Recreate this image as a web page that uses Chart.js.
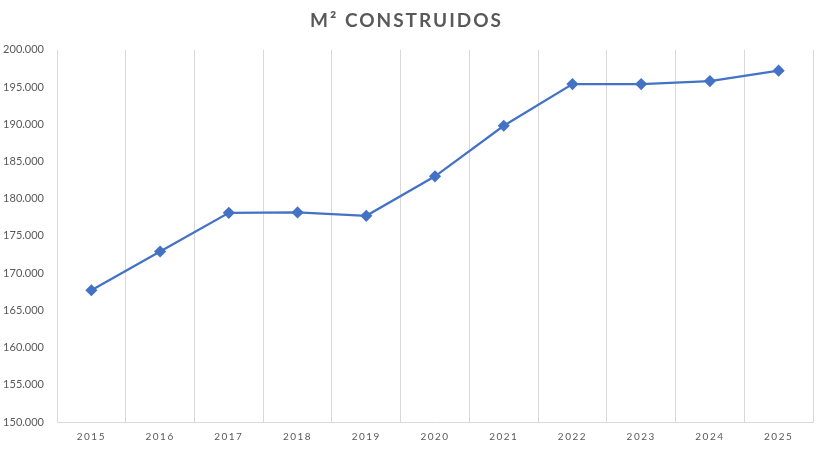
<!DOCTYPE html>
<html>
<head>
<meta charset="utf-8">
<script src="https://cdn.jsdelivr.net/npm/chart.js@4"></script>
<style>
  body { margin: 0; background: #fff; }
  .wrap { width: 826px; height: 450px; }
</style>
</head>
<body>
<div class="wrap"><canvas id="m2Chart"></canvas></div>
<script>
const years = ["2015", "2016", "2017", "2018", "2019", "2020", "2021", "2022", "2023", "2024", "2025"];
const m2Built = [167700, 172900, 178100, 178150, 177700, 183000, 189800, 195400, 195400, 195800, 197200];
const yMin = 150000;
const yMax = 200000;
const yStep = 5000;

const gray = "#595959";
const gridGray = "#d9d9d9";

// canvas letterSpacing for title and x labels only
function spaced(obj, key, spacing) {
  if (!obj || obj["_spaced_" + key]) return;
  const orig = obj[key];
  obj[key] = function () {
    const ctx = this.ctx;
    const prev = ctx.letterSpacing;
    ctx.letterSpacing = spacing;
    orig.apply(this, arguments);
    ctx.letterSpacing = prev || "0px";
  };
  obj["_spaced_" + key] = true;
}

const spacingPlugin = {
  id: "spacing",
  beforeDraw(chart) {
    spaced(chart.titleBlock, "draw", "2px");
    spaced(chart.scales.x, "drawLabels", "1.5px");
  },
};

const ctx = document.getElementById("m2Chart").getContext("2d");

const m2Chart = new Chart(ctx, {
  type: "line",
  data: {
    labels: years,
    datasets: [
      {
        label: "M² construidos",
        data: m2Built,
        borderColor: "#4472C4",
        backgroundColor: "#4472C4",
        borderWidth: 2.25,
        pointStyle: "rectRot",
        pointRadius: 4.5,
        pointHoverRadius: 5,
        tension: 0,
      },
    ],
  },
  plugins: [spacingPlugin],
  options: {
    responsive: true,
    maintainAspectRatio: false,
    animation: false,
    layout: {
      padding: { left: 0, right: 13, top: 0, bottom: 0 },
    },
    plugins: {
      legend: { display: false },
      tooltip: { enabled: false },
      title: {
        display: true,
        text: "M² CONSTRUIDOS",
        color: gray,
        font: { family: "Lato", size: 19, weight: "bold" },
        padding: { top: 9, bottom: 18 },
      },
    },
    scales: {
      x: {
        offset: true,
        grid: {
          offset: true,
          color: gridGray,
          lineWidth: 1,
          drawTicks: false,
        },
        border: { color: gridGray, width: 1 },
        ticks: {
          color: gray,
          font: { family: "Lato", size: 10 },
          padding: 9,
          maxRotation: 0,
        },
        afterFit(scale) {
          scale.height = 28;
        },
      },
      y: {
        min: yMin,
        max: yMax,
        grid: { display: false, drawTicks: false },
        border: { display: false },
        ticks: {
          stepSize: yStep,
          color: gray,
          font: { family: "Lato", size: 11 },
          padding: 13,
          callback: (v) => v.toLocaleString("de-DE"),
        },
        afterFit(scale) {
          scale.width = 57;
        },
      },
    },
  },
});
</script>
</body>
</html>
